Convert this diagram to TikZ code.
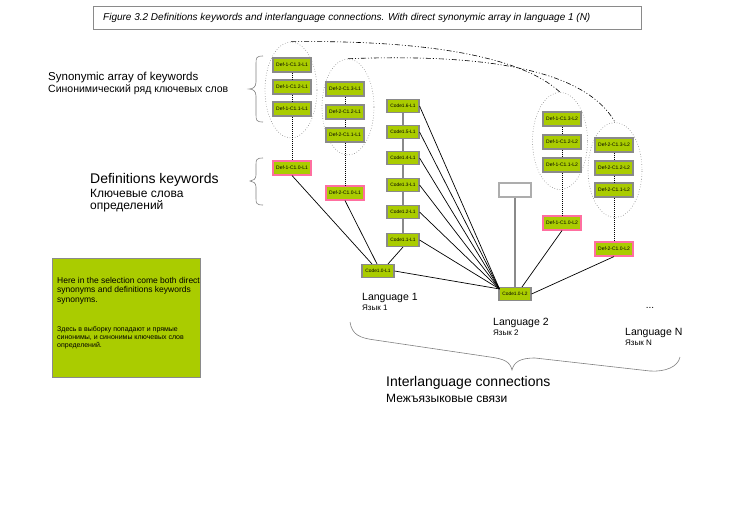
\documentclass[tikz,border=0pt]{standalone}
\usepackage{fontspec}
\setmainfont{Liberation Sans}
\usetikzlibrary{shapes.geometric,calc}
\definecolor{leaf}{HTML}{AACC00}
\definecolor{frame}{HTML}{8A8A8A}
\definecolor{rose}{HTML}{FF6FA0}
\tikzset{
 kw/.style={draw=frame, line width=1.1pt, fill=leaf, minimum width=38pt, minimum height=14pt, inner sep=0pt, font=\fontsize{5}{6}\selectfont},
 kwroot/.style={kw, draw=rose},
 codebox/.style={kw, minimum width=32pt, minimum height=13pt, font=\fontsize{4.8}{6}\selectfont},
 blank/.style={draw=frame!70, line width=1.1pt, fill=white, minimum width=32pt, minimum height=14pt, inner sep=0pt},
 synset/.style={draw=gray, dotted, line width=0.6pt, ellipse, inner sep=0pt},
 chain/.style={densely dotted, line width=1pt},
 link/.style={line width=0.7pt},
 stem/.style={draw=frame, line width=1.6pt},
 arcline/.style={line width=0.6pt, dash pattern=on 5pt off 2pt on 1pt off 2pt on 1pt off 2pt},
 bracepath/.style={draw=gray, line width=0.6pt},
 lbl/.style={anchor=west, inner sep=0pt},
}
\begin{document}
\begin{tikzpicture}[x=1pt,y=-1pt]
\useasboundingbox (0,0) rectangle (738,525);

% title
\node[draw=frame, line width=0.8pt, minimum width=548pt, minimum height=23pt, inner sep=0pt] (title) at (367,17.5) {};
\node[lbl, font=\fontsize{10}{12}\selectfont\itshape] (titletext) at (103,17.5) {Figure 3.2 Definitions keywords and interlanguage connections. With direct synonymic array in language 1 (N)};

% synonym ellipses
\node[synset, minimum width=52pt, minimum height=96pt] (e1) at (291,90) {};
\node[synset, minimum width=52pt, minimum height=96pt] (e2) at (348,107) {};
\node[synset, minimum width=55pt, minimum height=97pt] (e3) at (560,141) {};
\node[synset, minimum width=54pt, minimum height=95pt] (e4) at (615,170) {};

% dash-dot arcs between synonymic arrays
\draw[arcline] (e1.north) .. controls (420,40) and (520,55) .. (e3.north);
\draw[arcline] (e2.north) .. controls (450,55) and (580,60) .. (e4.north);

% Language 1, definition 1
\node[kw] (a13) at (292,65) {Def-1-C1.3-L1};
\node[kw] (a12) at (292,87) {Def-1-C1.2-L1};
\node[kw] (a11) at (292,109) {Def-1-C1.1-L1};
\node[kwroot] (a10) at (292,168) {Def-1-C1.0-L1};
% Language 1, definition 2
\node[kw] (b13) at (345,89) {Def-2-C1.3-L1};
\node[kw] (b12) at (345,112) {Def-2-C1.2-L1};
\node[kw] (b11) at (345,135) {Def-2-C1.1-L1};
\node[kwroot] (b10) at (345,193) {Def-2-C1.0-L1};
% Language 2, definition 1
\node[kw] (p13) at (562,119) {Def-1-C1.3-L2};
\node[kw] (p12) at (562,142) {Def-1-C1.2-L2};
\node[kw] (p11) at (562,165) {Def-1-C1.1-L2};
\node[kwroot] (p10) at (562,223) {Def-1-C1.0-L2};
% Language 2, definition 2
\node[kw] (q13) at (614,145) {Def-2-C1.3-L2};
\node[kw] (q12) at (614,168) {Def-2-C1.2-L2};
\node[kw] (q11) at (614,190) {Def-2-C1.1-L2};
\node[kwroot] (q10) at (614,249) {Def-2-C1.0-L2};

\foreach \c in {a,b,p,q}{
  \draw[chain] (\c13.south) -- (\c12.north);
  \draw[chain] (\c12.south) -- (\c11.north);
  \draw[chain] (\c11.south) -- (\c10.north);
}

% code column language 1
\node[codebox] (c16) at (403,106) {Code1.6-L1};
\node[codebox] (c15) at (403,132) {Code1.5-L1};
\node[codebox] (c14) at (403,158) {Code1.4-L1};
\node[codebox] (c13) at (403,185) {Code1.3-L1};
\node[codebox] (c12) at (403,212) {Code1.2-L1};
\node[codebox] (c11) at (403,240) {Code1.1-L1};
\node[codebox] (c10) at (378,271) {Code1.0-L1};
\node[codebox] (c20) at (515,294) {Code1.0-L2};
\node[blank] (empty) at (515,190) {};

\draw[stem] (c16.south) -- (c15.north);
\draw[stem] (c15.south) -- (c14.north);
\draw[stem] (c14.south) -- (c13.north);
\draw[stem] (c13.south) -- (c12.north);
\draw[stem] (c12.south) -- (c11.north);
\draw[stem] (empty.south) -- (c20.north);

\draw[link] (a10.south) -- ($(c10.north)+(-6,0)$);
\draw[link] (b10.south) -- ($(c10.north)+(-1,0)$);
\draw[link] (c11.south) -- ($(c10.north)+(10,0)$);

\coordinate (hub) at ($(c20.north west)+(1,2)$);
\foreach \n in {c16,c15,c14,c13,c12,c11,c10}{
  \draw[link] (\n.east) -- (hub);
}
\draw[link] (p10.south) -- ($(c20.north)+(7,0)$);
\draw[link] (q10.south) -- (c20.east);

% braces
\draw[bracepath] (263,56) .. controls (256,56) and (256,58) .. (256,64) -- (256,82) .. controls (256,87) and (253,89) .. (249,89) .. controls (253,89) and (256,91) .. (256,96) -- (256,114) .. controls (256,120) and (256,122) .. (263,122);
\draw[bracepath] (263,158) .. controls (256,158) and (256,160) .. (256,165) -- (256,175) .. controls (256,179) and (253,181) .. (250,181) .. controls (253,181) and (256,183) .. (256,187) -- (256,198) .. controls (256,203) and (256,205) .. (263,205);
\draw[bracepath] (350,322) .. controls (352,335) and (360,338) .. (375,340) -- (490,357) .. controls (505,359) and (510,362) .. (512,370) .. controls (514,362) and (520,358) .. (535,358) -- (650,371) .. controls (665,372) and (678,367) .. (680,357);

% left labels
\node[lbl, font=\fontsize{11.5}{13}\selectfont] (syn) at (48,78) {Synonymic array of keywords};
\node[lbl, font=\fontsize{10.5}{12}\selectfont] (synru) at (48,90) {Синонимический ряд ключевых слов};
\node[lbl, font=\fontsize{14}{16}\selectfont] (defs) at (90,180) {Definitions keywords};
\node[lbl, font=\fontsize{12}{13}\selectfont] (defsru1) at (90,193) {Ключевые слова};
\node[lbl, font=\fontsize{12}{13}\selectfont] (defsru2) at (90,206) {определений};

% note box
\node[draw=frame, line width=0.8pt, fill=leaf, minimum width=148pt, minimum height=119pt, inner sep=0pt] (note) at (126,317.5) {};
\node[anchor=north west, inner sep=0pt, align=left, font=\fontsize{8.5}{9.5}\selectfont] (noteen) at (57,277) {Here in the selection come both direct\\synonyms and definitions keywords\\synonyms.};
\node[anchor=north west, inner sep=0pt, align=left, font=\fontsize{7}{8}\selectfont] (noteru) at (57,326) {Здесь в выборку попадают и прямые\\синонимы, и синонимы ключевых слов\\определений.};

% language labels
\node[lbl, font=\fontsize{10.5}{12}\selectfont] (lang1) at (362,298) {Language 1};
\node[lbl, font=\fontsize{8}{9}\selectfont] (lang1ru) at (362,308) {Язык 1};
\node[lbl, font=\fontsize{10.5}{12}\selectfont] (lang2) at (493,323) {Language 2};
\node[lbl, font=\fontsize{8}{9}\selectfont] (lang2ru) at (493,333) {Язык 2};
\node[lbl, font=\fontsize{10.5}{12}\selectfont] (langn) at (625,333) {Language N};
\node[lbl, font=\fontsize{8}{9}\selectfont] (langnru) at (625,343) {Язык N};
\node[font=\fontsize{10}{12}\selectfont, inner sep=0pt] (dots) at (650,308) {...};

\node[lbl, font=\fontsize{14}{16}\selectfont] (inter) at (386,383) {Interlanguage connections};
\node[lbl, font=\fontsize{12}{14}\selectfont] (interru) at (386,398) {Межъязыковые связи};
\end{tikzpicture}
\end{document}
